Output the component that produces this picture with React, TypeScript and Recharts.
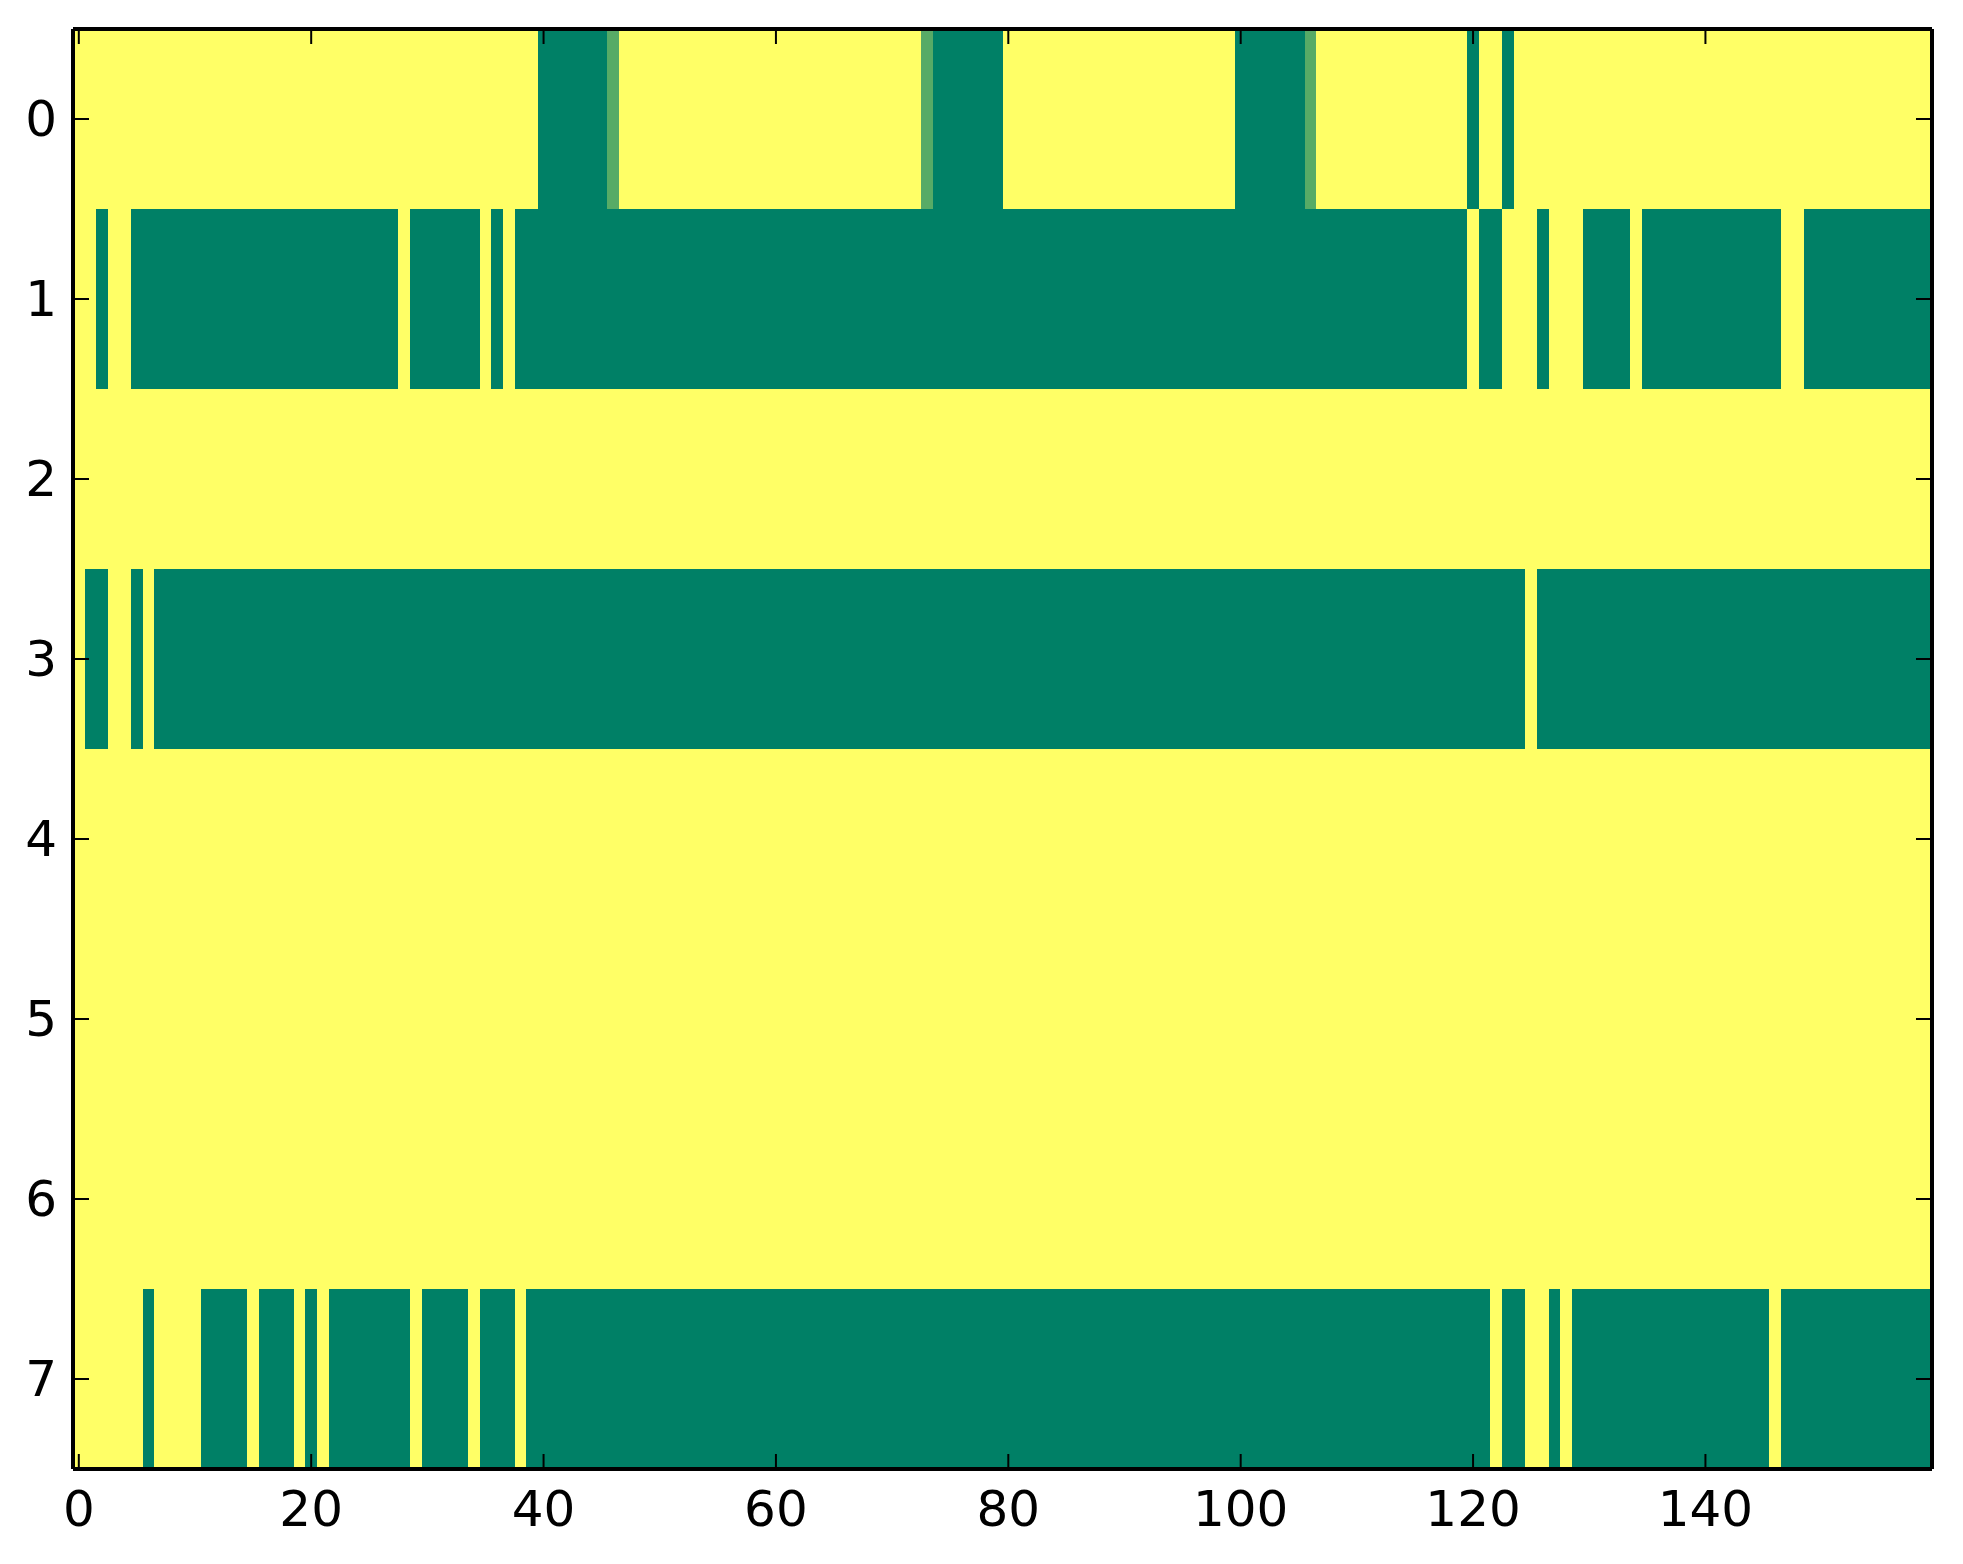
import { Bar, BarChart, Cell, XAxis, YAxis } from 'recharts';

const ROW_LABELS = ['0', '1', '2', '3', '4', '5', '6', '7'];
const X_TICKS = [0, 20, 40, 60, 80, 100, 120, 140];
const N_COLS = 160;

// each row as runs of [value, count], read left to right (1 = yellow, 0 = green)
const ROW_0: [number, number][] = [
  [1, 40], [0, 6], [0.34, 1], [1, 26], [0.34, 1], [0, 6], [1, 20], [0, 6], [0.34, 1],
  [1, 13], [0, 1], [1, 2], [0, 1], [1, 36],
];
const ROW_1: [number, number][] = [
  [1, 2], [0, 1], [1, 2], [0, 23], [1, 1], [0, 6], [1, 1], [0, 1], [1, 1], [0, 82],
  [1, 1], [0, 2], [1, 3], [0, 1], [1, 3], [0, 4], [1, 1], [0, 12], [1, 2], [0, 11],
];
const ROW_2: [number, number][] = [[1, 160]];
const ROW_3: [number, number][] = [
  [1, 1], [0, 2], [1, 2], [0, 1], [1, 1], [0, 118], [1, 1], [0, 34],
];
const ROW_4: [number, number][] = [[1, 160]];
const ROW_5: [number, number][] = [[1, 160]];
const ROW_6: [number, number][] = [[1, 160]];
const ROW_7: [number, number][] = [
  [1, 6], [0, 1], [1, 4], [0, 4], [1, 1], [0, 3], [1, 1], [0, 1], [1, 1], [0, 7],
  [1, 1], [0, 4], [1, 1], [0, 3], [1, 1], [0, 83], [1, 1], [0, 2], [1, 2], [0, 1],
  [1, 1], [0, 17], [1, 1], [0, 13],
];
const ROWS = [ROW_0, ROW_1, ROW_2, ROW_3, ROW_4, ROW_5, ROW_6, ROW_7];

const expand = (runs: [number, number][]) => runs.flatMap(([v, n]) => Array(n).fill(v) as number[]);
const GRID = ROWS.map(expand);
const COLS = Array.from({ length: N_COLS }, (_, i) => i);

// every cell is one unit wide; column c sits on [c, c + 1]
const data = ROW_LABELS.map((label) => {
  const o: Record<string, string | number> = { row: label };
  COLS.forEach((c) => {
    o[`c${c}`] = 1;
  });
  return o;
});

// matplotlib "summer" colormap
function summer(v: number) {
  const r = Math.round(255 * v);
  const g = Math.round(255 * (0.5 + v / 2));
  return `rgb(${r},${g},102)`;
}

const FONT = '"DejaVu Sans", sans-serif';
const AXIS_LINE = { stroke: '#000', strokeWidth: 4 };
const W = 1963;
const H = 1564;
const MARGIN = { top: 28, right: 30, bottom: 0, left: 0 };

function LeftTick({ x, y, payload, show }: any) {
  if (!show) return null;
  return (
    <g>
      <line x1={x} x2={x + 16} y1={y} y2={y} stroke="#000" strokeWidth={2} />
      <text x={x - 16} y={y} dy={17} textAnchor="end" fontSize={50} fontFamily={FONT} fill="#000">
        {payload.value}
      </text>
    </g>
  );
}

function RightTick({ x, y, show }: any) {
  if (!show) return null;
  return <line x1={x} x2={x - 16} y1={y} y2={y} stroke="#000" strokeWidth={2} />;
}

function BottomTick({ x, y, payload, show }: any) {
  if (!show) return null;
  return (
    <g>
      <line x1={x} x2={x} y1={y} y2={y - 15} stroke="#000" strokeWidth={2} />
      <text x={x} y={y + 57} textAnchor="middle" fontSize={50} fontFamily={FONT} fill="#000">
        {Math.round(payload.value - 0.5)}
      </text>
    </g>
  );
}

function TopTick({ x, y, show }: any) {
  if (!show) return null;
  return <line x1={x} x2={x} y1={y} y2={y + 15} stroke="#000" strokeWidth={2} />;
}

// the same axes in both layers; only the overlay draws them
function axes(show: boolean) {
  const ticks = X_TICKS.map((t) => t + 0.5);
  const line = show ? AXIS_LINE : false;
  const list = [
    <XAxis
      key="b"
      type="number"
      domain={[0, N_COLS]}
      allowDataOverflow
      ticks={ticks}
      interval={0}
      height={95}
      tickSize={0}
      tickMargin={0}
      tickLine={false}
      axisLine={line}
      tick={<BottomTick show={show} />}
    />,
    <XAxis
      key="t"
      xAxisId="top"
      orientation="top"
      type="number"
      domain={[0, N_COLS]}
      allowDataOverflow
      ticks={ticks}
      interval={0}
      height={1}
      tickSize={0}
      tickMargin={0}
      tickLine={false}
      axisLine={line}
      tick={<TopTick show={show} />}
    />,
    <YAxis
      key="l"
      type="category"
      dataKey="row"
      width={73}
      interval={0}
      tickSize={0}
      tickMargin={0}
      tickLine={false}
      axisLine={line}
      tick={<LeftTick show={show} />}
    />,
    <YAxis
      key="r"
      yAxisId="right"
      orientation="right"
      type="category"
      dataKey="row"
      width={1}
      interval={0}
      tickSize={0}
      tickMargin={0}
      tickLine={false}
      axisLine={line}
      tick={<RightTick show={show} />}
    />,
    // invisible series so that the top and right axes have something bound to them
    <Bar
      key="anchorB"
      dataKey="c0"
      xAxisId="top"
      yAxisId="right"
      fill="none"
      stackId="anchorB"
      isAnimationActive={false}
    />,
  ];
  if (show) {
    list.push(<Bar key="anchorA" dataKey="c0" fill="none" stackId="anchorA" isAnimationActive={false} />);
  }
  return list;
}

export default function App() {
  return (
    <div style={{ position: 'absolute', left: 0, top: 0, width: W, height: H, background: '#fff' }}>
      <div style={{ position: 'absolute', left: 0, top: 0 }}>
        <BarChart width={W} height={H} data={data} layout="vertical" barCategoryGap={0} barGap={0} margin={MARGIN}>
          {COLS.map((c) => (
            <Bar key={c} dataKey={`c${c}`} stackId="grid" isAnimationActive={false}>
              {ROW_LABELS.map((_, r) => (
                <Cell key={r} fill={summer(GRID[r][c])} shapeRendering="crispEdges" />
              ))}
            </Bar>
          ))}
          {axes(false)}
        </BarChart>
      </div>
      <div style={{ position: 'absolute', left: 0, top: 0 }}>
        <BarChart width={W} height={H} data={data} layout="vertical" barCategoryGap={0} barGap={0} margin={MARGIN}>
          {axes(true)}
        </BarChart>
      </div>
    </div>
  );
}
